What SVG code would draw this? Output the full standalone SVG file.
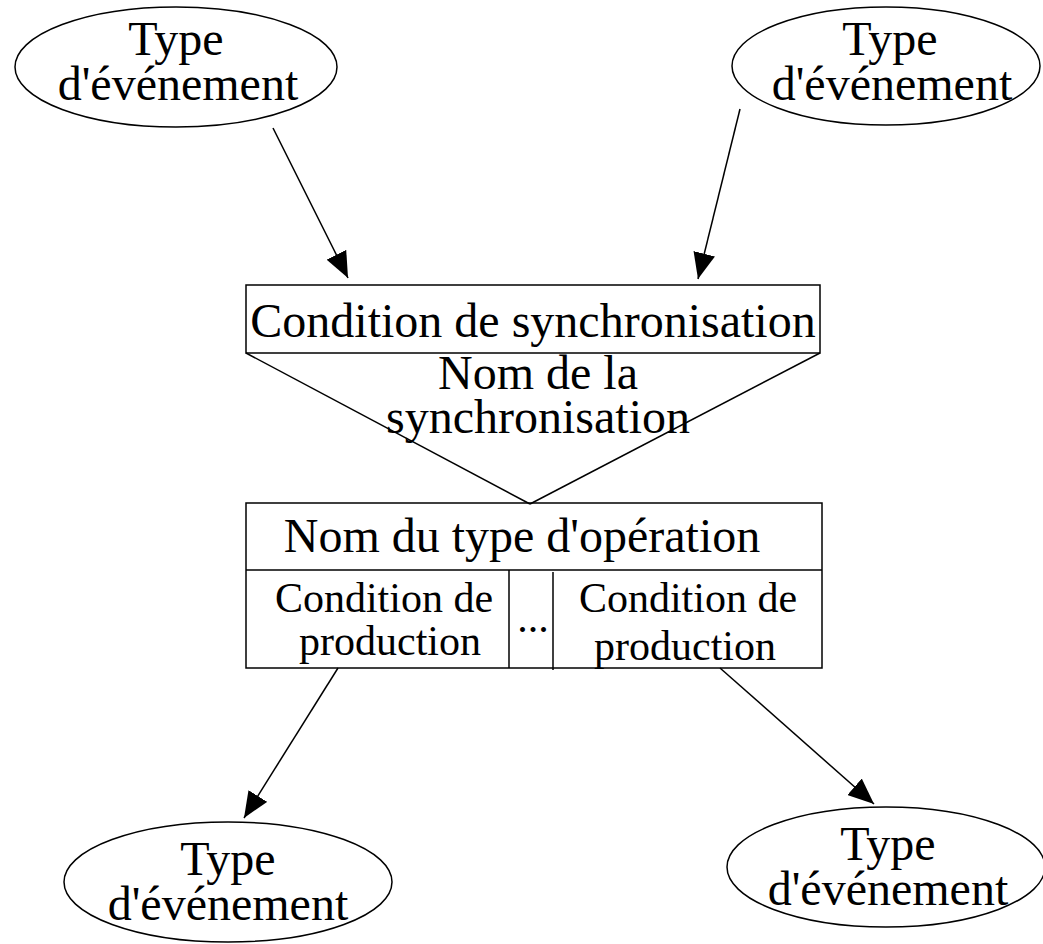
<svg xmlns="http://www.w3.org/2000/svg" width="1043" height="944" viewBox="0 0 1043 944">
<style>
.shape{fill:none;stroke:#000;stroke-width:1.5}
.t{font-family:"Liberation Serif","Times New Roman",serif;font-size:48px;fill:#000;text-anchor:middle}
.s{font-family:"Liberation Serif","Times New Roman",serif;font-size:42px;fill:#000;text-anchor:middle}
.edge{fill:none;stroke:#000;stroke-width:1.5}
</style>
<defs>
<marker id="arr" viewBox="0 0 26 22" refX="26" refY="11" markerWidth="26" markerHeight="22" markerUnits="userSpaceOnUse" orient="auto">
<path d="M0,0 L26,11 L0,22 z" fill="#000"/>
</marker>
</defs>
<rect width="1043" height="944" fill="#fff"/>
<g id="ev1">
<ellipse class="shape" cx="176" cy="67" rx="161" ry="60"/>
<text class="t" x="176" y="55">Type</text>
<text class="t" x="178" y="100">d'événement</text>
</g>
<g id="ev2">
<ellipse class="shape" cx="886" cy="66" rx="154" ry="59"/>
<text class="t" x="890" y="55">Type</text>
<text class="t" x="892" y="100">d'événement</text>
</g>
<g id="sync">
<rect class="shape" x="246" y="285" width="574" height="68"/>
<text class="t" x="533" y="337">Condition de synchronisation</text>
<text class="t" x="538" y="389">Nom de la</text>
<text class="t" x="538" y="433">synchronisation</text>
</g>
<g id="op">
<rect class="shape" x="246" y="503" width="576" height="165"/>
<line class="shape" x1="246" y1="570" x2="822" y2="570"/>
<line class="shape" x1="509" y1="570" x2="509" y2="668"/>
<line class="shape" x1="553" y1="572" x2="553" y2="670"/>
<text class="t" x="522" y="552">Nom du type d'opération</text>
<text class="s" x="384" y="612">Condition de</text>
<text class="s" x="390" y="655">production</text>
<text class="s" x="533" y="632">...</text>
<text class="s" x="688" y="612">Condition de</text>
<text class="s" x="685" y="660">production</text>
</g>
<g id="ev3">
<ellipse class="shape" cx="228" cy="882" rx="164" ry="60"/>
<text class="t" x="228" y="875">Type</text>
<text class="t" x="228" y="920">d'événement</text>
</g>
<g id="ev4">
<ellipse class="shape" cx="886" cy="867" rx="159" ry="60"/>
<text class="t" x="888" y="860">Type</text>
<text class="t" x="888" y="905">d'événement</text>
</g>
<g id="connectors">
<line class="edge" x1="273" y1="128" x2="348" y2="278" marker-end="url(#arr)"/>
<line class="edge" x1="740" y1="109" x2="698" y2="279" marker-end="url(#arr)"/>
<line class="edge" x1="338" y1="668" x2="244" y2="818" marker-end="url(#arr)"/>
<line class="edge" x1="720" y1="668" x2="874" y2="804" marker-end="url(#arr)"/>
<line class="edge" x1="246" y1="353" x2="530" y2="504"/>
<line class="edge" x1="820" y1="353" x2="530" y2="504"/>
</g>
</svg>
